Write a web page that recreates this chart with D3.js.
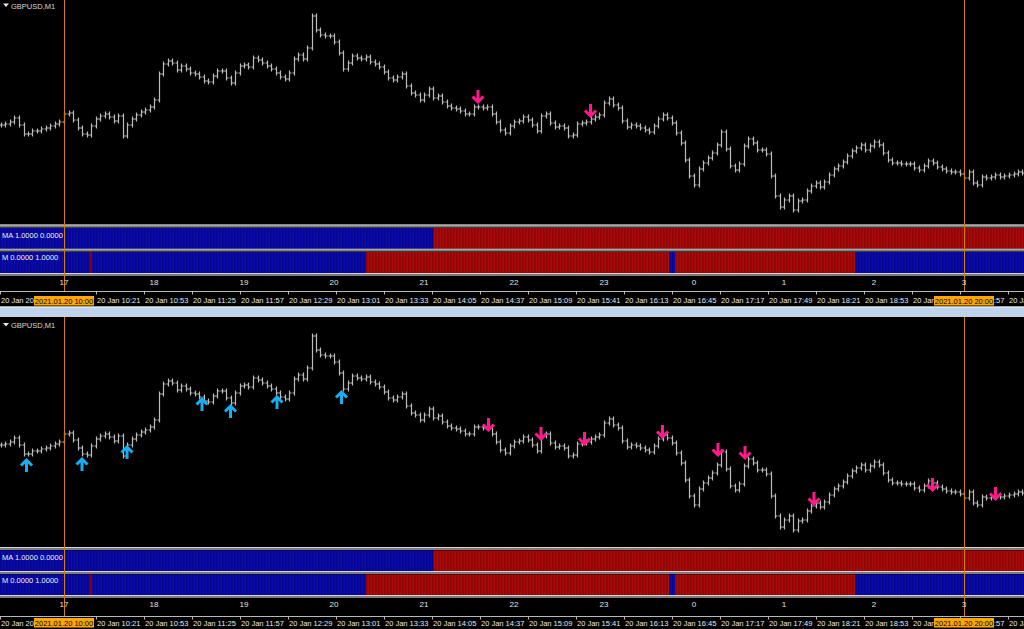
<!DOCTYPE html>
<html><head><meta charset="utf-8">
<script src="https://cdn.jsdelivr.net/npm/d3@7/dist/d3.min.js"></script>
<style>html,body{margin:0;padding:0;background:#000;overflow:hidden}svg{display:block}</style>
</head><body><svg id="c" width="1024" height="629"></svg>
<script>
// ---------------- data ----------------
const symbolTitle = "GBPUSD,M1";
const barStart = "09:18";          // first bar time
const barStepMinutes = 3;          // bar period used for the trace
const closes = [
1.36425,1.36430,1.36440,1.36460,1.36425,1.36380,1.36380,1.36395,1.36395,1.36405,
1.36410,1.36420,1.36430,1.36440,1.36480,1.36485,1.36450,1.36410,1.36380,1.36375,
1.36420,1.36455,1.36470,1.36480,1.36465,1.36445,1.36470,1.36370,1.36425,1.36455,
1.36475,1.36490,1.36500,1.36515,1.36550,1.36680,1.36730,1.36745,1.36735,1.36700,
1.36720,1.36705,1.36685,1.36680,1.36665,1.36645,1.36640,1.36670,1.36695,1.36695,
1.36660,1.36635,1.36685,1.36720,1.36725,1.36715,1.36760,1.36750,1.36735,1.36720,
1.36705,1.36685,1.36665,1.36655,1.36685,1.36755,1.36775,1.36755,1.36810,1.36970,
1.36900,1.36875,1.36870,1.36870,1.36840,1.36785,1.36705,1.36735,1.36770,1.36760,
1.36755,1.36765,1.36740,1.36730,1.36715,1.36690,1.36660,1.36650,1.36665,1.36680,
1.36620,1.36585,1.36575,1.36550,1.36575,1.36605,1.36560,1.36570,1.36540,1.36520,
1.36510,1.36505,1.36495,1.36480,1.36480,1.36515,1.36515,1.36510,1.36515,1.36480,
1.36440,1.36400,1.36385,1.36420,1.36440,1.36445,1.36465,1.36450,1.36425,1.36395,
1.36470,1.36480,1.36435,1.36415,1.36420,1.36410,1.36370,1.36375,1.36430,1.36435,
1.36440,1.36455,1.36465,1.36475,1.36535,1.36555,1.36525,1.36510,1.36445,1.36415,
1.36425,1.36420,1.36410,1.36400,1.36390,1.36420,1.36455,1.36475,1.36460,1.36435,
1.36385,1.36335,1.36250,1.36170,1.36125,1.36205,1.36235,1.36260,1.36285,1.36325,
1.36390,1.36305,1.36220,1.36200,1.36230,1.36320,1.36355,1.36335,1.36300,1.36300,
1.36280,1.36170,1.36070,1.36015,1.36050,1.36070,1.36000,1.36045,1.36050,1.36095,
1.36120,1.36135,1.36115,1.36140,1.36175,1.36205,1.36220,1.36240,1.36270,1.36295,
1.36310,1.36325,1.36300,1.36320,1.36340,1.36325,1.36285,1.36250,1.36235,1.36235,
1.36230,1.36230,1.36230,1.36210,1.36200,1.36220,1.36245,1.36235,1.36215,1.36205,
1.36195,1.36190,1.36190,1.36180,1.36160,1.36190,1.36135,1.36125,1.36165,1.36160,
1.36165,1.36175,1.36165,1.36170,1.36175,1.36180,1.36190,1.36185
];
const priceDomain = [1.3595, 1.3700];

const hourTimes  = ["10:00","11:00","12:00","13:00","14:00","15:00","16:00","17:00","18:00","19:00","20:00"];
const hourLabels = ["17","18","19","20","21","22","23","0","1","2","3"];

const tickTimes  = ["09:17","10:21","10:53","11:25","11:57","12:29","13:01","13:33","14:05","14:37",
                    "15:09","15:41","16:13","16:45","17:17","17:49","18:21","18:53","19:25","19:57","20:29"];
const tickLabels = ["20 Jan 2021","20 Jan 10:21","20 Jan 10:53","20 Jan 11:25","20 Jan 11:57",
                    "20 Jan 12:29","20 Jan 13:01","20 Jan 13:33","20 Jan 14:05","20 Jan 14:37","20 Jan 15:09",
                    "20 Jan 15:41","20 Jan 16:13","20 Jan 16:45","20 Jan 17:17","20 Jan 17:49","20 Jan 18:21",
                    "20 Jan 18:53","20 Jan 19:25","20 Jan 19:57","20 Jan 20:29"];

const markerTimes  = ["10:00","20:00"];
const markerLabels = ["2021.01.20 10:00","2021.01.20 20:00"];

const maLabel = "MA 1.0000 0.0000";
const maSwitchTimes  = ["09:17","14:07"];
const maSwitchStates = [1, 0];
const mLabel = "M 0.0000 1.0000";
const mSwitchTimes  = ["09:17","10:18","10:19","13:22","16:44","16:48","18:48"];
const mSwitchStates = [1, 0, 1, 0, 1, 0, 1];
const stripEnd = "20:40";

// arrows (time, tip price)
const topDownTimes  = ["14:36","15:51"];
const topDownPrices = [1.36530, 1.36460];
const botUpTimes    = ["09:35","10:12","10:42","11:32","11:51","12:22","13:05"];
const botUpPrices   = [1.36360, 1.36365, 1.36425, 1.36665, 1.36630, 1.36675, 1.36700];
const botDownTimes  = ["14:43","15:18","15:47","16:39","17:16","17:34","18:20","19:39","20:21"];
const botDownPrices = [1.36490, 1.36445, 1.36420, 1.36455, 1.36365, 1.36350, 1.36120, 1.36190, 1.36145];

// ---------------- drawing ----------------
const parse = s => { const [h, m] = s.split(":").map(Number); return new Date(2021, 0, 20, h, m); };
const svg = d3.select("#c");
const W = 1024;
svg.append("rect").attr("width", W).attr("height", 629).attr("fill", "#000");

const x = d3.scaleTime().domain([parse("10:00"), parse("20:00")]).range([64, 964]);
const FONT = "Liberation Sans, Arial, sans-serif";
const barDates = closes.map((c, i) => d3.timeMinute.offset(parse(barStart), i * barStepMinutes));
const bars = closes.map((c, i) => ({ t: barDates[i], o: i ? closes[i - 1] : c, c }));

const windows = [
  { top: 0, priceRange: [220, 10], titleY: 8.5, sepA: 224.5, s1: [227.5, 248.5], s2: [251.5, 273], sepC: 273,
    maY: 237.5, mY: 260, hourY: 284.5, axisY: 291.5, labelY: 303, boxY: 296,
    up: [], down: [topDownTimes, topDownPrices] },
  { top: 317, priceRange: [540, 330], titleY: 328, sepA: 547, s1: [550, 571], s2: [574, 595], sepC: 595,
    maY: 559.5, mY: 582.5, hourY: 607, axisY: 616.5, labelY: 626, boxY: 618,
    up: [botUpTimes, botUpPrices], down: [botDownTimes, botDownPrices] }
];

function stateAt(d, times, states) {
  let s = states[0];
  times.forEach((t, i) => { if (parse(t) <= d) s = states[i]; });
  return s;
}
const minutes = d3.timeMinute.range(parse("09:17"), d3.timeMinute.offset(parse(stripEnd), 1));

windows.forEach((w, wi) => {
  const g = svg.append("g");
  const y = d3.scaleLinear().domain(priceDomain).range(w.priceRange);

  // price bars
  const clipId = "clip" + wi;
  g.append("clipPath").attr("id", clipId).append("rect")
    .attr("x", 0).attr("y", w.top).attr("width", W).attr("height", w.sepA - w.top);
  const pb = g.append("g").attr("clip-path", `url(#${clipId})`)
    .attr("stroke", "#bcbcbc").attr("stroke-width", 1.2).attr("fill", "none");
  pb.selectAll("path").data(bars).join("path")
    .attr("d", b => {
      const xx = Math.round(x(b.t)) + 0.5;
      const yo = y(b.o), yc = y(b.c);
      const hi = Math.min(yo, yc) - 2.5, lo = Math.max(yo, yc) + 2.5;
      return `M${xx},${hi}V${lo}M${xx - 2},${yo}H${xx}M${xx},${yc}H${xx + 2}`;
    });

  // arrows
  const downCol = "#ff1a8c", upCol = "#18aef2";
  if (w.down.length) {
    g.selectAll(".dn").data(w.down[0].map((t, i) => ({ t: parse(t), p: w.down[1][i] }))).join("path")
      .attr("fill", "none").attr("stroke", downCol).attr("stroke-width", 3)
      .attr("d", a => {
        const ax = x(a.t), ay = y(a.p);
        return `M${ax},${ay - 14}V${ay - 2}M${ax - 5.5},${ay - 7.5}L${ax},${ay - 2}L${ax + 5.5},${ay - 7.5}`;
      });
  }
  if (w.up.length) {
    g.selectAll(".up").data(w.up[0].map((t, i) => ({ t: parse(t), p: w.up[1][i] }))).join("path")
      .attr("fill", "none").attr("stroke", upCol).attr("stroke-width", 3)
      .attr("d", a => {
        const ax = x(a.t), ay = y(a.p);
        return `M${ax},${ay + 14}V${ay + 2}M${ax - 5.5},${ay + 7.5}L${ax},${ay + 2}L${ax + 5.5},${ay + 7.5}`;
      });
  }

  // title
  g.append("path").attr("d", `M3,${w.titleY - 5}h6l-3,3.5z`).attr("fill", "#e8e8e8");
  g.append("text").attr("x", 11).attr("y", w.titleY).text(symbolTitle)
    .attr("fill", "#d8d8d8").attr("font-family", FONT).attr("font-size", 7.5);

  // separators
  const sep = yy => {
    g.append("rect").attr("x", 0).attr("y", yy).attr("width", W).attr("height", 3).attr("fill", "#7c7c7c");
    g.append("rect").attr("x", 0).attr("y", yy).attr("width", W).attr("height", 1).attr("fill", "#d4d4d4");
  };
  sep(w.sepA); sep(w.s1[1]); sep(w.sepC);

  // strips
  const strip = (range, times, states, label, ly) => {
    const sg = g.append("g");
    sg.selectAll("rect.f").data(minutes).join("rect")
      .attr("x", d => x(d) - 0.75).attr("width", 1.5)
      .attr("y", range[0] + 0.5).attr("height", range[1] - range[0] - 0.5)
      .attr("fill", d => stateAt(d, times, states) ? "#1010c4" : "#c41010");
    sg.selectAll("rect.s").data(minutes).join("rect")
      .attr("x", d => x(d) - 0.75).attr("width", 0.55)
      .attr("y", range[0] + 0.5).attr("height", range[1] - range[0] - 0.5)
      .attr("fill", d => stateAt(d, times, states) ? "#000080" : "#800000");
    sg.append("text").attr("x", 2).attr("y", ly).text(label)
      .attr("fill", "#f0f0f0").attr("font-family", FONT).attr("font-size", 7.5);
  };
  strip([w.s1[0], w.s1[1]], maSwitchTimes, maSwitchStates, maLabel, w.maY);
  strip([w.s2[0], w.s2[1]], mSwitchTimes, mSwitchStates, mLabel, w.mY);

  // orange period lines
  g.selectAll("line.mk").data(markerTimes).join("line")
    .attr("x1", d => Math.round(x(parse(d))) + 0.5).attr("x2", d => Math.round(x(parse(d))) + 0.5)
    .attr("y1", w.top).attr("y2", w.axisY)
    .attr("stroke", "#d08000").attr("stroke-width", 1);

  // hour labels
  g.selectAll("text.hr").data(hourTimes).join("text")
    .attr("x", d => x(parse(d))).attr("y", w.hourY).attr("text-anchor", "middle")
    .text((d, i) => hourLabels[i])
    .attr("fill", "#e0e0e0").attr("font-family", FONT).attr("font-size", 8);

  // time axis
  g.append("line").attr("x1", 0).attr("x2", W).attr("y1", w.axisY).attr("y2", w.axisY)
    .attr("stroke", "#b8b8b8").attr("stroke-width", 1);
  g.selectAll("line.tk").data(tickTimes).join("line")
    .attr("x1", d => Math.round(x(parse(d))) + 0.5).attr("x2", d => Math.round(x(parse(d))) + 0.5)
    .attr("y1", w.axisY).attr("y2", w.axisY + 3).attr("stroke", "#b8b8b8");
  g.selectAll("text.tl").data(tickTimes).join("text")
    .attr("x", d => x(parse(d)) + 1.5).attr("y", w.labelY)
    .text((d, i) => tickLabels[i])
    .attr("fill", "#e8e8e8").attr("font-family", FONT).attr("font-size", 7.5);
  markerTimes.forEach((t, i) => {
    const cx = x(parse(t));
    g.append("rect").attr("x", cx - 30).attr("y", w.boxY).attr("width", 60).attr("height", 9.5).attr("fill", "#ffa500");
    g.append("text").attr("x", cx).attr("y", w.boxY + 7.5).attr("text-anchor", "middle")
      .text(markerLabels[i]).attr("fill", "#000").attr("font-family", FONT).attr("font-size", 7.5);
  });
});

// window divider
svg.append("rect").attr("x", 0).attr("y", 306.5).attr("width", W).attr("height", 10).attr("fill", "#bcd4ee");
svg.append("rect").attr("x", 0).attr("y", 306.5).attr("width", W).attr("height", 1.5).attr("fill", "#e4e4e4");
svg.append("rect").attr("x", 0).attr("y", 315.5).attr("width", W).attr("height", 1.5).attr("fill", "#d0d0d0");
</script></body></html>
